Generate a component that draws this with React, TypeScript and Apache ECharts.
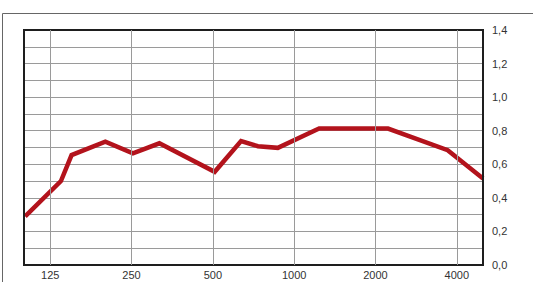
import React, { useEffect, useRef } from "react";
import * as echarts from "echarts";

// Frequencies (Hz) and absorption values
const frequencies = [101, 137, 150, 200, 253, 317, 508, 636, 734, 870, 1237, 2225, 3700, 5000];
const values = [0.29, 0.5, 0.655, 0.735, 0.665, 0.725, 0.555, 0.738, 0.708, 0.698, 0.813, 0.813, 0.684, 0.516];
const xTickFreqs = [125, 250, 500, 1000, 2000, 4000];
const xTickLabels = ["125", "250", "500", "1000", "2000", "4000"];
const refFreq = 125;
const xMinFreq = 100;
const xMaxFreq = 5000;

const toX = (f: number) => Math.log2(f / refFreq);

export default function App() {
  const ref = useRef<HTMLDivElement>(null);
  useEffect(() => {
    if (!ref.current) return;
    const chart = echarts.init(ref.current, undefined, { renderer: "svg" });
    const data = frequencies.map((f, i) => [toX(f), values[i]]);
    const font = "Liberation Sans, Arial, sans-serif";
    chart.setOption({
      animation: false,
      backgroundColor: "#ffffff",
      grid: {
        left: 24,
        right: 50,
        top: 30,
        bottom: 17,
        show: true,
        borderColor: "#1e1e1e",
        borderWidth: 2,
        backgroundColor: "transparent",
        z: 3,
      },
      graphic: [
        {
          type: "rect",
          shape: { x: 2.5, y: 13.5, width: 700, height: 400 },
          style: { fill: "none", stroke: "#666", lineWidth: 1 },
          silent: true,
          z: -1,
        },
      ],
      xAxis: {
        type: "value",
        min: toX(xMinFreq),
        max: toX(xMaxFreq),
        axisLine: { show: false },
        axisTick: { show: false },
        splitLine: { show: false },
        axisLabel: { show: false },
      },
      yAxis: {
        type: "value",
        position: "right",
        min: 0,
        max: 1.4,
        interval: 0.1,
        axisLine: { show: false },
        axisTick: { show: false },
        splitLine: { show: true, lineStyle: { color: "#9a9a9a", width: 1 } },
        axisLabel: {
          margin: 9,
          fontSize: 11,
          color: "#333",
          fontFamily: font,
          formatter: (v: number) => {
            const k = Math.round(v * 10);
            if (k % 2 !== 0) return "";
            return (k / 10).toFixed(1).replace(".", ",");
          },
        },
      },
      series: [
        {
          type: "line",
          data: [],
          z: 1,
          silent: true,
          markLine: {
            silent: true,
            symbol: ["none", "none"],
            animation: false,
            lineStyle: { color: "#9a9a9a", width: 1, type: "solid" },
            label: {
              show: true,
              position: "start",
              distance: 4,
              fontSize: 11,
              color: "#333",
              fontFamily: font,
              formatter: (p: any) => p.name,
            },
            emphasis: { disabled: true },
            data: xTickFreqs.map((f, i) => ({ name: xTickLabels[i], xAxis: toX(f) })),
          },
        },
        {
          type: "line",
          data,
          showSymbol: false,
          symbol: "none",
          lineStyle: { color: "#b3131c", width: 4.5, join: "miter" },
          z: 2,
          clip: true,
        },
      ],
    });
    return () => chart.dispose();
  }, []);
  return (
    <div
      ref={ref}
      style={{ position: "absolute", left: 0, top: 0, width: 533, height: 282 }}
    />
  );
}
